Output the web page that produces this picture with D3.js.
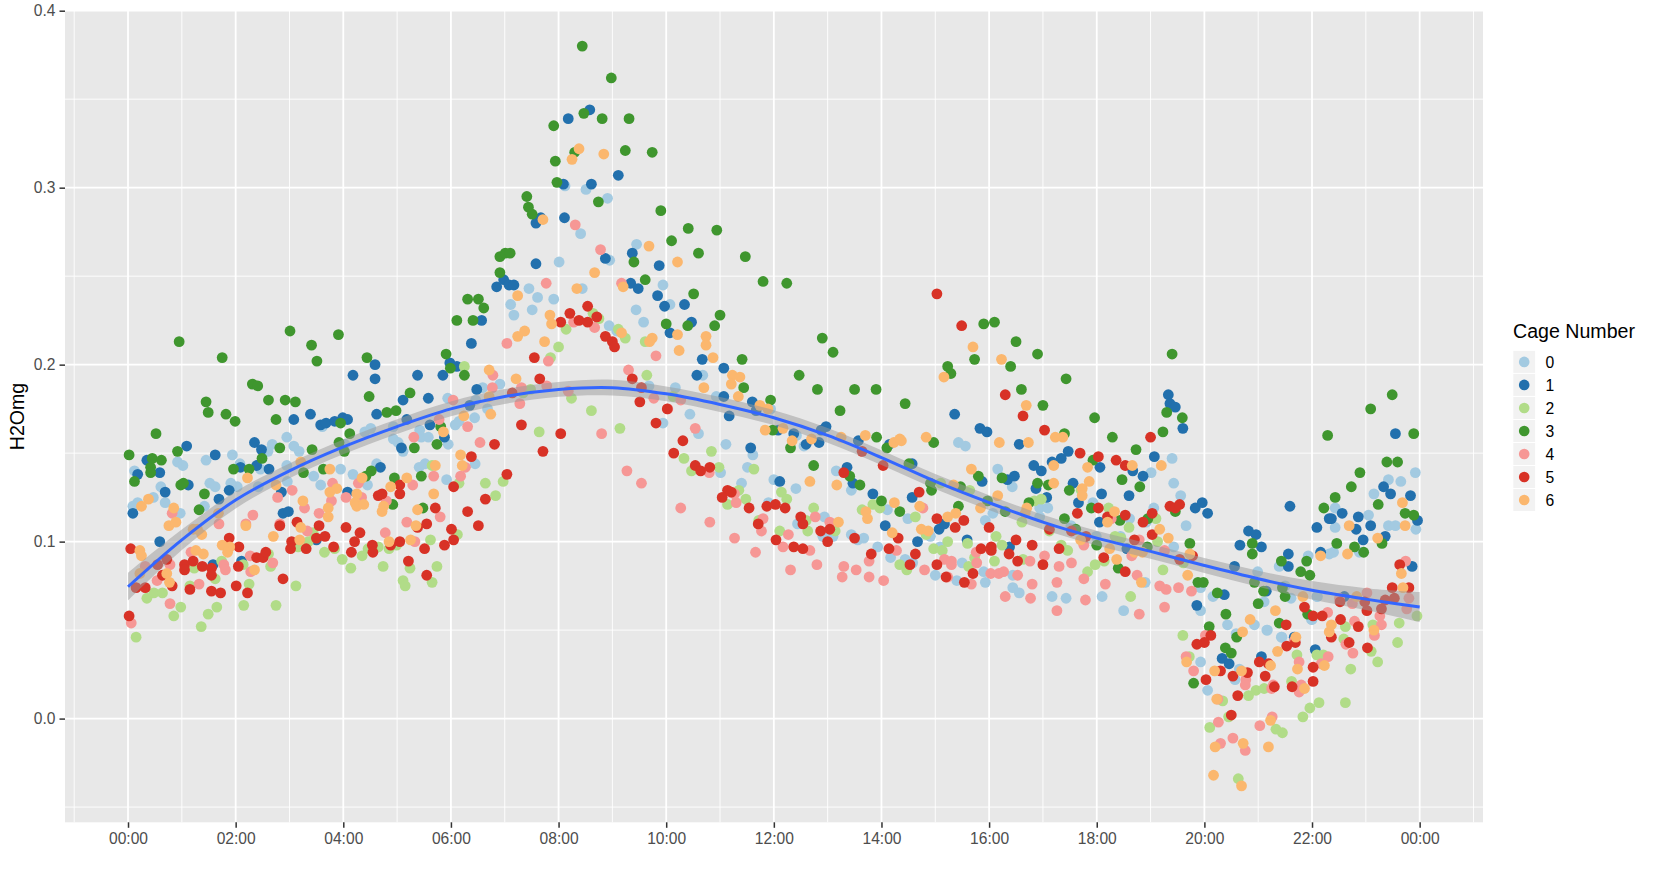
<!DOCTYPE html>
<html><head><meta charset="utf-8">
<script src="https://cdn.jsdelivr.net/npm/d3@7"></script>
<style>html,body{margin:0;background:#fff}svg{display:block}text{font-family:"Liberation Sans",Arial,sans-serif}</style>
</head><body><svg id="c" width="1657" height="880"></svg>
<script>
const cageNames=["0","1","2","3","4","5","6"];
const cageColors=["#A3CAE1","#2270AD","#B1DC88","#3F962E","#F69795","#D83226","#FBB76E"];
const xTickHours=[0,2,4,6,8,10,12,14,16,18,20,22,24];
const xTickLabels=["00:00","02:00","04:00","06:00","08:00","10:00","12:00","14:00","16:00","18:00","20:00","22:00","00:00"];
const yTickValues=[0,0.1,0.2,0.3,0.4];
const smoothHours=[0,1,2,3,4,5,6,7,8,9,10,11,12,13,14,15,16,17,18,19,20,21,22,23,24];
const smoothValues=[.0745,.101,.1235,.14,.1535,.165,.175,.182,.186,.187,.1835,.1775,.17,.16,.1475,.134,.122,.111,.102,.0945,.0865,.079,.0725,.0675,.063];
const smoothSE=[.0078,.0058,.0048,.0042,.0042,.0042,.0042,.0042,.0042,.0045,.0042,.0042,.0042,.0042,.0042,.0042,.0042,.0042,.0042,.0042,.0042,.0045,.0052,.0062,.0085];

const cage0=[[.12,.14],[.09,.12],[.18,.122],[.47,.125],[.61,.131],[.69,.122],[.92,.145],[1.02,.143],[.97,.116],[1.45,.146],[1.52,.133],[1.62,.131],[1.42,.12],[1.94,.149],[1.91,.133],[2.03,.131],[2.08,.144],[2.46,.141],[2.42,.131],[2.6,.151],[2.68,.155],[2.95,.159],[3.08,.154],[3.18,.151],[2.95,.143],[2.96,.134],[3.45,.137],[3.58,.132],[3.61,.165],[3.95,.141],[4.18,.138],[4.45,.132],[4.4,.162],[4.51,.164],[4.62,.144],[4.93,.158],[5.02,.156],[5.11,.151],[5.42,.163],[5.45,.159],[5.58,.159],[5.41,.142],[5.52,.144],[5.92,.135],[5.94,.181],[5.95,.155],[6.08,.166],[6.15,.168],[6.44,.17],[6.68,.175],[6.45,.144],[6.59,.187],[6.91,.189],[6.46,.18],[4.03,.155],[4.93,.165],
[7.45,.243],[7.61,.238],[7.91,.237],[7.11,.234],[7.17,.228],[7.51,.231],[8.01,.258],[8.41,.274],[8.12,.301],[8.51,.299],[8.91,.294],[8.95,.259],[9.45,.268],[8.44,.243],[9.94,.245],[10.07,.234],[9.44,.231],[9.58,.224],[8.94,.222],[9.08,.219],
[9.68,.188],[10.17,.187],[9.94,.167],[10.44,.172],[10.6,.161],[10.68,.194],[10.93,.182],[11.11,.155],[11.61,.149],[11.51,.142],[11.01,.139],[11.4,.133],[11.94,.175],[12,.135],[12.42,.16],[12.41,.13],[12.56,.154],[13.16,.14],[13.44,.129],[11.9,.122],[12.94,.114],[12.44,.11],[12.91,.103],[13.1,.103],[13.44,.104],[13.67,.102],[13.56,.101],[14.11,.118],[13.93,.097],[14.17,.091],
[14.49,.113],[14.91,.103],[14.44,.09],[14.58,.088],[15,.081],[15.09,.097],[15.4,.078],[15.5,.088],[15.43,.156],[15.56,.154],[15.93,.112],[16.07,.116],[15.93,.077],[15.9,.083],[16.43,.131],[16.16,.141],[16.44,.081],[16.44,.074],[16.56,.071],[16.94,.119],[17.09,.119],[16.94,.114],[17.17,.069],[17.43,.068],[17.93,.122],[17.52,.109],[17.99,.103],[18.1,.069],[18.44,.103],[18.61,.113],[18.5,.061],[18.92,.111],[19.01,.139],[19.06,.119],[19.4,.147],[19.43,.133],[19.56,.126],[19.66,.109],[19.43,.097],[18.9,.077],[19.93,.074],[19.93,.061],[20.16,.069],[20.43,.053],[20.59,.048],[20.93,.053],[20.99,.083],[21.11,.066],[21.17,.05],[21.39,.086],[21.5,.075],[21.61,.068],[21.44,.046],[21.93,.092],[21.99,.056],[22.1,.069],[22.32,.093],
[22.43,.119],[22.43,.108],[22.4,.094],[22.88,.094],[20.06,.016],[19.93,.032],[21.16,.05],[21.43,.046],[20.65,.028],[20.57,.022],[22.09,.069],[22,.056],[23.92,.139],[23.42,.135],[23.65,.134],[23.15,.127],[23.05,.115],[23.42,.109],[23.55,.109],[23.93,.107]];

const cage1=[[.09,.116],[.18,.138],[.35,.146],[.59,.139],[.69,.128],[.59,.1],[1.09,.154],[1.12,.132],[1.62,.149],[1.69,.124],[1.88,.129],[1.58,.087],[2.11,.089],[2.09,.142],[2.39,.143],[2.62,.141],[2.35,.156],[2.48,.152],[3.08,.169],[3.39,.172],[3.58,.166],[3.68,.167],[3.84,.168],[3.99,.17],[4.08,.169],[2.85,.128],[2.88,.116],[2.98,.117],[4.08,.128],[3.5,.101],[4.18,.194],[4.59,.2],[4.59,.192],[4.62,.172],[5.08,.153],[5.18,.169],[5.11,.18],[5.38,.194],[5.58,.181],[5.85,.194],[5.61,.166],[5.88,.159],[5.98,.201],[6.11,.199],[6.38,.212],[6.48,.186],[6.35,.177],[4.69,.142],
[6.57,.225],[6.85,.244],[6.98,.248],[7.08,.245],[7.17,.245],[7.58,.257],[7.58,.28],[7.67,.283],[8.11,.283],[8.09,.302],[8.61,.302],[9.11,.307],[8.18,.339],[8.58,.344],[9.37,.263],[8.87,.26],[9.87,.256],[9.34,.246],[9.48,.243],[9.84,.239],[9.97,.233],[10.34,.234],[10.47,.224],[10.07,.218],
[10.67,.203],[10.57,.194],[11.07,.198],[11.07,.182],[11.17,.171],[11.6,.179],[11.67,.174],[11.57,.153],[12.08,.163],[12.37,.161],[12.6,.155],[12.84,.156],[12.97,.165],[12.88,.163],[12.11,.134],[13.36,.142],[13.47,.133],[13.57,.157],[13.84,.127],[14.07,.109],[14.15,.155],
[14.57,.144],[15.36,.172],[15.83,.164],[15.96,.162],[16.56,.155],[14.57,.125],[14.67,.1],[15.07,.107],[15.17,.11],[15.59,.101],[15.87,.134],[16.34,.135],[16.47,.137],[16.83,.143],[16.97,.14],[16.87,.13],[17.17,.145],[17.34,.147],[17.47,.151],[17.07,.125],[17.56,.133],[17.66,.122],[18.06,.142],[18.09,.127],[18.6,.126],[18.67,.14],[18.86,.137],[19.07,.148],[19.33,.183],[19.36,.178],[19.46,.176],[19.6,.164],[18.05,.111],[19.83,.119],[19.96,.122],[20.06,.116],[16.38,.097],[18.56,.096],[21.59,.12],[22.09,.108],[22.32,.113],[20.66,.098],[20.82,.106],[20.96,.104],[21.06,.097],[20.56,.086],[21.56,.093],[21.56,.086],[22.16,.094],[21.15,.072],[20.37,.07],[19.86,.064],[21.67,.046],
[22.56,.116],[22.36,.113],[22.82,.107],[22.86,.114],[23.09,.109],[22.95,.101],[23.36,.103],[23.96,.112],[23.86,.086],[22.6,.069],[20.33,.034],[20.46,.031],[21.06,.035],[22.06,.039],[23.55,.161],[23.33,.131],[23.46,.127],[23.83,.126]];

const cage2=[[.15,.046],[.35,.068],[.48,.071],[.64,.071],[.85,.058],[.98,.063],[1.36,.052],[1.49,.059],[1.65,.063],[2.15,.064],[2.25,.076],[1.15,.075],[1.23,.085],[1.62,.079],[1.74,.089],[2.14,.087],[2.65,.086],[2.61,.093],[2.75,.064],[3.12,.075],[3.16,.097],[3.35,.1],[3.44,.105],[3.65,.094],[3.84,.096],[3.98,.09],[4.14,.085],[4.35,.092],[4.46,.096],[4.65,.097],[4.74,.086],[4.85,.096],[4.99,.098],[5.11,.078],[5.15,.075],[5.24,.085],[5.62,.101],[5.65,.077],[5.74,.086],[6.12,.104],[6.15,.133],[6.64,.133],[6.83,.126],[6.97,.134],[5.65,.143],[6.25,.199],
[8.14,.22],[8,.21],[8.64,.229],[8.75,.226],[9.11,.22],[9.24,.215],[9.61,.213],[7.85,.204],[7.34,.184],[7.48,.186],[8.24,.181],[8.61,.174],[7.64,.162],[9.14,.164],[9.64,.194],[10.13,.182],[10.84,.151],[10.33,.147],[10.47,.14],[10.98,.142],[11.63,.141],[11.35,.129],[11.48,.124],[11.14,.121],[12.14,.128],[12.24,.124],[12.74,.119],[12.6,.112],[12.63,.106],[11.72,.112],[12.11,.106],[13.14,.106],[13.64,.118],[13.84,.121],[13.97,.119],[14.34,.087],
[14.63,.114],[14.83,.104],[15.23,.1],[15.6,.099],[14.97,.096],[15.13,.095],[14.47,.084],[15.62,.086],[15.73,.091],[16.13,.103],[16.24,.098],[16.1,.089],[16.63,.09],[15.64,.129],[15.1,.133],[16.61,.111],[16.84,.123],[16.97,.124],[17.71,.129],[17.12,.106],[17.34,.098],[17.46,.095],[18.22,.119],[18.6,.108],[18.34,.103],[18.45,.102],[17.83,.083],[17.97,.087],[18.14,.089],[19.13,.1],[19.1,.113],[19.23,.084],[18.63,.069],[19.6,.047],[19.61,.088],
[19.72,.035],[20.34,.01],[20.45,.001],[20.1,-.005],[20.82,.013],[20.96,.016],[21.11,.017],[21.33,-.006],[21.45,-.008],[20.63,-.034],[21.62,.021],[21.72,.036],[21.83,.001],[21.96,.006],[22.13,.009],[22.62,.009],[22.09,.036],[22.21,.036],[22.59,.045],[22.62,.052],[22.72,.028],[23.1,.038],[23.22,.032],[23.13,.053],[23.62,.054],[23.59,.043],[23.95,.058]];

const cage3=[[.02,.149],[.12,.134],[.42,.142],[.42,.139],[.45,.147],[.62,.146],[.52,.161],[.95,.213],[.92,.151],[.98,.132],[1.03,.133],[1.42,.127],[1.32,.118],[1.45,.179],[1.49,.173],[1.75,.204],[1.82,.172],[1.99,.168],[1.96,.141],[2.25,.141],[2.49,.147],[2.31,.189],[2.41,.188],[2.61,.18],[2.92,.18],[3.11,.179],[2.75,.169],[2.82,.153],[3.01,.219],[3.41,.211],[3.51,.202],[3.91,.217],[3.26,.139],[3.42,.152],[3.63,.141],[3.95,.167],[4.12,.161],[3.92,.156],[4.02,.151],[4.44,.204],[5.91,.206],[5.99,.198],[6.25,.194],[4.48,.182],[4.81,.173],[4.98,.174],[5.24,.184],[5.32,.153],[5.74,.155],[5.81,.165],[4.42,.137],[4.52,.14],[4.95,.136],[5.45,.137],[5.48,.119],[4.92,.121],[6.11,.225],[6.31,.237],[6.51,.237],[6.61,.232],[6.41,.225],[6.91,.261],[7.01,.263],[7.1,.263],[6.91,.252],
[8.44,.38],[8.98,.362],[8.47,.342],[8.81,.339],[9.31,.339],[7.91,.335],[9.24,.321],[9.74,.32],[8.3,.32],[7.94,.315],[7.97,.303],[8.74,.292],[7.41,.295],[7.44,.289],[7.51,.285],[9.9,.287],[10.41,.277],[10.1,.27],[10.94,.276],[10.6,.263],[11.47,.261],[9.4,.258],[9.61,.248],[11.8,.247],[12.24,.246],[10.51,.24],[11,.228],[10.9,.222],[10.4,.222],[10,.223],[12.9,.215],[13.1,.207],
[11.41,.203],[12.47,.194],[11.44,.187],[12.81,.186],[13.5,.186],[13.9,.186],[13.23,.174],[11.94,.18],[13.91,.159],[14.1,.153],[12.31,.153],[11.98,.163],[12.74,.143],[13.6,.132],[13.41,.137],[14,.123],[14.34,.117],
[14.44,.178],[15.23,.199],[15.29,.195],[15.73,.203],[15.9,.223],[16.1,.224],[16.4,.199],[16.5,.213],[16.9,.206],[16.6,.186],[17,.177],[17.43,.192],[14.97,.156],[14.51,.144],[14.91,.133],[14.93,.129],[15.47,.131],[15.43,.12],[15.8,.137],[16.24,.136],[16.9,.133],[17.1,.132],[16.74,.122],[17.49,.129],[17.4,.161],[17.96,.17],[18.29,.159],[18.73,.152],[19.23,.162],[19.3,.173],[19.59,.17],[19.4,.206],[17.93,.146],[18.47,.135],[18.8,.131],[17.9,.119],[17.4,.113],[17.61,.107],[18.43,.112],[18.95,.113],[19.46,.117],[19.73,.099],[18.94,.097],[18,.098],[15.97,.123],[16.3,.117],[18.4,.085],[19.88,.077],[19.98,.077],[20.24,.071],[20.4,.059],[20.09,.052],[20.6,.046],[20.89,.099],[20.89,.093],[20.93,.077],[21.1,.072],[21,.065],[21.43,.089],[21.9,.089],[21.79,.083],[21.96,.081],[21.5,.069],[21.39,.054],[21.92,.059],[21.45,.074],[20.39,.04],[20.5,.037],[19.8,.02],
[23.49,.183],[23.09,.175],[22.29,.16],[23.89,.161],[23.39,.145],[23.59,.145],[22.89,.139],[22.73,.131],[22.43,.125],[22.22,.119],[23.23,.121],[23.73,.116],[23.89,.115],[22.46,.099],[22.79,.097],[22.96,.094],[23.3,.099]];

const cage4=[[.06,.054],[.32,.086],[.54,.078],[.78,.087],[.78,.065],[.82,.116],[1.17,.094],[1.32,.076],[1.69,.11],[1.78,.087],[1.81,.084],[2.19,.11],[2.32,.115],[2.27,.092],[2.28,.083],[2.69,.088],[2.78,.125],[3.05,.129],[2.82,.11],[3.28,.119],[3.33,.106],[3.55,.116],[3.8,.133],[3.78,.123],[4.28,.133],[4.05,.125],[4.34,.125],[4.8,.123],[4.78,.105],[5.29,.132],[5.18,.111],[5.33,.1],[5.68,.137],[5.8,.114],[5.78,.169],[5.31,.159],[6.04,.18],[6.31,.165],[6.18,.137],[6.27,.142],[6.54,.156],[6.78,.194],[6.77,.187],
[8.31,.279],[8.78,.265],[9.17,.246],[7.77,.246],[7.04,.212],[8.28,.224],[8.67,.221],[7.81,.202],[7.31,.187],[7.78,.188],[7.28,.178],[8.18,.185],[9.3,.197],[9.81,.205],[9.77,.181],[10.27,.18],[10.54,.164],[10.03,.175],[8.8,.161],[9.27,.14],[9.54,.133],[10.27,.119],[10.8,.139],[11.3,.122],[11.27,.127],[10.81,.111],[11.27,.102],[11.8,.113],[11.77,.106],[11.66,.094],[12.27,.104],[12.17,.097],[12.67,.095],[12.77,.114],[13.04,.111],[12.31,.084],[12.8,.087],[13.3,.086],[13.27,.08],[13.53,.084],[13.77,.089],[13.77,.08],[14.04,.078],[14.28,.095],
[14.77,.119],[14.8,.084],[15.23,.08],[15.17,.09],[15.3,.089],[15.3,.087],[15.67,.076],[15.76,.094],[15.77,.088],[16.03,.082],[16.18,.082],[16.27,.083],[16.53,.081],[16.3,.069],[16.8,.076],[16.77,.068],[16.76,.089],[17.03,.092],[17.3,.086],[17.26,.077],[17.26,.061],[17.53,.088],[17.79,.067],[17.76,.079],[17.76,.098],[18.16,.076],[18.27,.113],[18.79,.101],[18.65,.092],[18.75,.081],[18.79,.059],[19.17,.075],[19.29,.073],[19.26,.063],[19.26,.095],[19.52,.074],[19.76,.072],
[19.66,.035],[19.8,.027],[20.02,.047],[20.26,-.002],[20.25,.011],[20.3,-.014],[20.53,-.011],[20.76,-.018],[20.77,.022],[20.76,.019],[21.03,-.004],[21.26,.001],[21.28,.019],[21.25,.017],[21.76,.032],[21.8,.019],[21.76,.015],[22.29,.06],[22.3,.035],[22.17,.031],[22.63,.042],[22.79,.055],[22.76,.037],[23.02,.071],[22.75,.065],[23.26,.058],[23.29,.053],[23.16,.047],[23.74,.089],[23.8,.068],[23.76,.062],[22.51,.068],[21.67,.044]];

const cage5=[[.02,.058],[.05,.096],[.15,.074],[.32,.074],[.55,.087],[.72,.09],[.64,.081],[.82,.075],[1.05,.087],[1.05,.084],[1.21,.089],[1.15,.073],[1.38,.086],[1.55,.085],[1.55,.081],[1.55,.072],[1.72,.071],[1.88,.102],[2.06,.097],[2.05,.086],[2.01,.075],[2.22,.071],[2.39,.091],[2.51,.091],[2.56,.094],[2.82,.109],[2.88,.079],[3.04,.1],[3.02,.096],[3.14,.111],[3.31,.096],[3.5,.102],[3.66,.103],[3.55,.109],[3.82,.097],[4.05,.108],[4.15,.094],[4.21,.1],[4.31,.105],[4.54,.098],[4.55,.094],[4.65,.126],[4.72,.127],[5.05,.127],[5.05,.132],[4.88,.098],[5.05,.1],[5.21,.089],[5.38,.108],[5.55,.11],[5.51,.096],[5.55,.081],[5.71,.119],[5.88,.098],[6.01,.107],[6.05,.101],[6.05,.131],[6.31,.117],[6.38,.148],[6.51,.109],[6.64,.124],[6.81,.155],[7.04,.138],
[7.55,.204],[7.65,.192],[7.14,.184],[7.31,.166],[7.71,.151],[8.04,.161],[8.04,.224],[8.21,.229],[8.38,.225],[8.54,.233],[8.54,.224],[8.71,.227],[8.87,.216],[9,.213],[9.04,.21],[9.37,.192],[9.54,.187],[9.51,.179],[10.02,.175],[9.81,.167],[10.31,.157],[10.14,.15],[10.54,.143],[10.64,.14],[10.81,.142],[11.14,.129],[11.21,.128],[11.04,.125],[11.54,.119],[11.71,.11],[11.87,.12],[12.03,.121],[12.21,.119],[12.5,.114],[12.54,.11],[12.04,.101],[12.37,.097],[12.54,.096],[12.87,.106],[13.04,.107],[13,.1],[13.3,.139],[13.5,.102],[13.64,.151],[13.81,.093],[14.14,.096],[14.03,.143],[14.31,.102],
[15.03,.24],[15.49,.222],[16.3,.183],[16.63,.171],[17.03,.163],[14.7,.128],[14.63,.093],[14.53,.087],[15.03,.113],[15.53,.112],[15.37,.108],[15.03,.087],[15.2,.08],[15.54,.077],[15.7,.082],[16,.108],[15.85,.096],[16.04,.097],[16.04,.095],[16.37,.093],[16.5,.101],[16.53,.089],[16.8,.098],[17,.087],[17.3,.096],[17.12,.107],[17.53,.106],[17.64,.116],[17.69,.15],[18.03,.148],[18.03,.119],[17.8,.103],[18.2,.114],[18.53,.115],[18.36,.146],[18.53,.143],[18.13,.091],[18.53,.083],[18.7,.101],[18.86,.111],[19.03,.116],[19.03,.104],[19,.159],[19.36,.12],[19.46,.119],[19.54,.121],[19.54,.09],[19.78,.092],[21.86,.063],[22.02,.058],[22.19,.058],[21.52,.053],[20.12,.047],
[20,.043],[19.86,.042],[20.3,.027],[20.03,.022],[20.53,.024],[20.8,.026],[20.62,.013],[20.5,.002],[21.02,.032],[21.19,.031],[21.13,.024],[21.3,.018],[21.53,.041],[21.69,.043],[21.63,.018],[22.02,.029],[22.02,.021],[22.36,.046],[22.53,.056],[22.69,.043],[22.86,.052],[23.03,.04],[22.52,.066],[23.02,.061],[22.98,.066],[23.36,.067],[23.53,.068],[23.29,.062],[23.49,.074],[23.63,.087],[23.8,.074]];

const cage6=[[.25,.12],[.38,.124],[.22,.095],[.25,.092],[.22,.082],[.72,.082],[.77,.077],[.76,.109],[.85,.119],[.89,.111],[1.21,.107],[1.29,.107],[1.37,.104],[1.26,.095],[1.4,.093],[1.68,.116],[1.75,.098],[1.89,.097],[1.85,.094],[2.19,.109],[2.22,.136],[2.35,.084],[2.7,.103],[2.75,.132],[3.19,.101],[3.21,.108],[3.21,.145],[3.25,.123],[3.72,.119],[3.72,.114],[3.75,.128],[3.88,.13],[3.75,.141],[4.25,.127],[4.35,.136],[4.22,.122],[4.25,.12],[4.38,.121],[4.75,.12],[4.72,.117],[4.88,.131],[4.85,.1],[5.18,.136],[5.25,.101],[5.35,.109],[5.38,.118],[5.71,.143],[5.68,.127],[5.86,.162],[6.18,.149],[6.21,.143],[6.24,.171],[6.74,.172],[6.71,.197],[6.71,.182],
[8.38,.322],[8.25,.316],[8.84,.319],[7.71,.282],[9.68,.267],[10.21,.258],[8.67,.252],[8.34,.243],[9.2,.244],[7.24,.239],[7.84,.228],[7.87,.223],[7.37,.219],[7.24,.216],[7.74,.213],[9.17,.218],[9.74,.215],[9.69,.213],[10.21,.217],[10.74,.216],[10.74,.211],[10.24,.208],[10.87,.204],[11.23,.194],[11.37,.193],[11.21,.189],[10.7,.187],[11.34,.182],[7.21,.192],[11.74,.177],[11.89,.175],[11.84,.163],[12.17,.164],[12.34,.157],[12.7,.158],[12.67,.134],[13.17,.132],[13.2,.111],[13.25,.159],[13.7,.16],[14.23,.156],[14.34,.158],[13.71,.117],[13.74,.113],[14.24,.122],[14.2,.105],
[14.37,.157],[14.83,.159],[15.16,.193],[15.7,.21],[16.23,.203],[16.69,.177],[16.19,.156],[16.73,.156],[17.23,.159],[17.37,.159],[15.67,.141],[17.2,.143],[17.2,.133],[17.86,.134],[17.83,.142],[17.73,.13],[17.73,.126],[18.66,.143],[19.2,.143],[14.71,.12],[15.34,.132],[14.74,.107],[14.87,.106],[15.23,.114],[15.38,.116],[15.84,.119],[16.16,.126],[16.7,.119],[16.67,.116],[18.33,.117],[18.2,.111],[19.17,.107],[19.33,.102],[17.7,.101],[18.24,.096],[18.37,.09],[18.7,.094],[18.85,.094],[18.83,.077],[19.73,.093],[19.69,.081],[20.71,.049],[20.85,.056],[21.32,.061],[21.83,.069],[22.16,.092],
[23.68,.122],[23.73,.109],[23.22,.102],[22.69,.109],[22.66,.093],[22.83,.069],[22.36,.053],[22.32,.049],[23.15,.05],[23.69,.074],[23.66,.082],[21.7,.046],[21.36,.038],[21.23,.03],[21.73,.028],[22.23,.03],[21.86,.017],[20.69,.027],[20.19,.027],[19.67,.032],[20.23,.011],[21.23,-.001],[20.72,-.014],[20.2,-.016],[21.19,-.016],[20.17,-.032],[20.69,-.038]];

const cages=[cage0,cage1,cage2,cage3,cage4,cage5,cage6];

const svg=d3.select("#c");
const panel={l:65,r:1483,t:11,b:822.3};
const x=d3.scaleLinear().domain([-1.171,25.177]).range([panel.l,panel.r]);
const y=d3.scaleLinear().domain([-0.0586,0.4]).range([panel.b,10.7]);

svg.append("rect").attr("x",panel.l).attr("y",panel.t).attr("width",panel.r-panel.l).attr("height",panel.b-panel.t).attr("fill","#E8E8E8");
const grid=svg.append("g");
const minorX=d3.range(-1,26,2), minorY=d3.range(-0.05,0.36,0.1);
grid.selectAll(".mx").data(minorX).join("line").attr("x1",d=>x(d)).attr("x2",d=>x(d)).attr("y1",panel.t).attr("y2",panel.b).attr("stroke","#fff").attr("stroke-width",0.9);
grid.selectAll(".my").data(minorY).join("line").attr("x1",panel.l).attr("x2",panel.r).attr("y1",d=>y(d)).attr("y2",d=>y(d)).attr("stroke","#fff").attr("stroke-width",0.9);
grid.selectAll(".Mx").data(xTickHours).join("line").attr("x1",d=>x(d)).attr("x2",d=>x(d)).attr("y1",panel.t).attr("y2",panel.b).attr("stroke","#fff").attr("stroke-width",1.8);
grid.selectAll(".My").data(yTickValues).join("line").attr("x1",panel.l).attr("x2",panel.r).attr("y1",d=>y(d)).attr("y2",d=>y(d)).attr("stroke","#fff").attr("stroke-width",1.8);

cages.forEach((pts,i)=>{
  svg.append("g").selectAll("circle").data(pts).join("circle")
    .attr("cx",d=>x(d[0])).attr("cy",d=>y(d[1])).attr("r",5.4).attr("fill",cageColors[i]);
});

const smooth=smoothHours.map((h,i)=>({h,v:smoothValues[i],se:smoothSE[i]}));
svg.append("path").datum(smooth).attr("fill","#999").attr("fill-opacity",0.5)
  .attr("d",d3.area().x(d=>x(d.h)).y0(d=>y(d.v-d.se)).y1(d=>y(d.v+d.se)).curve(d3.curveCatmullRom));
svg.append("path").datum(smooth).attr("fill","none").attr("stroke","#3366FF").attr("stroke-width",3)
  .attr("d",d3.line().x(d=>x(d.h)).y(d=>y(d.v)).curve(d3.curveCatmullRom));

const xAxis=svg.append("g").attr("transform",`translate(0,${panel.b})`)
  .call(d3.axisBottom(x).tickValues(xTickHours).tickSize(5.5).tickPadding(5).tickFormat((d,i)=>xTickLabels[i]));
const yAxis=svg.append("g").attr("transform",`translate(${panel.l},0)`)
  .call(d3.axisLeft(y).tickValues(yTickValues).tickSize(5.5).tickPadding(4).tickFormat(d3.format(".1f")));
[xAxis,yAxis].forEach(a=>{
  a.select(".domain").remove();
  a.selectAll("line").attr("stroke","#333").attr("stroke-width",1.5);
  a.selectAll("text").attr("fill","#4D4D4D").style("font-size","15.6px").style("font-family","'Liberation Sans',Arial,sans-serif");
});
svg.append("text").attr("transform","translate(24,416.5) rotate(-90)").attr("text-anchor","middle").attr("font-size","19.6px").attr("fill","#000").text("H2Omg");

const legend=svg.append("g");
legend.append("text").attr("x",1513).attr("y",338).attr("font-size","19.6px").attr("fill","#000").text("Cage Number");
const ly=d3.scaleLinear().domain([0,6]).range([361.9,500]);
cageNames.forEach((n,i)=>{
  legend.append("rect").attr("x",1513.3).attr("y",ly(i)-11).attr("width",21.8).attr("height",22).attr("fill","#F2F2F2");
  legend.append("circle").attr("cx",1524.2).attr("cy",ly(i)).attr("r",5.3).attr("fill",cageColors[i]);
  legend.append("text").attr("x",1545.5).attr("y",ly(i)).attr("dy","0.36em").attr("font-size","15.7px").attr("fill","#000").text(n);
});
</script></body></html>
